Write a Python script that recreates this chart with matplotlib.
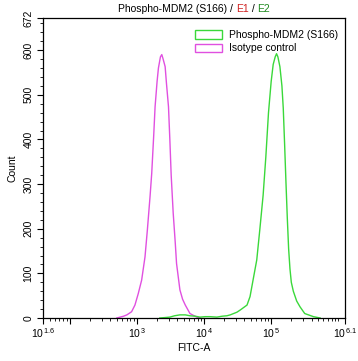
import matplotlib
matplotlib.use("Agg")
import matplotlib.pyplot as plt
from matplotlib.patches import Patch
import numpy as np

plt.rcParams['font.family'] = ['Liberation Sans', 'DejaVu Sans']
plt.rcParams['mathtext.fontset'] = 'custom'
plt.rcParams['mathtext.rm'] = 'Liberation Sans'
plt.rcParams['mathtext.it'] = 'Liberation Sans'
plt.rcParams['mathtext.bf'] = 'Liberation Sans'

# Data (log10 of FITC-A, count)
iso_logx = [2.70, 2.80, 2.85, 2.92, 2.97, 3.02, 3.07, 3.12, 3.155, 3.195, 3.22, 3.25, 3.27,
            3.30, 3.32, 3.35, 3.37, 3.39, 3.42, 3.44, 3.47, 3.49, 3.51, 3.54, 3.57,
            3.59, 3.64, 3.68, 3.72, 3.79, 3.89, 3.94]
iso_count = [0, 4, 7, 14, 29, 55, 85, 137, 197, 272, 324, 410, 473,
             530, 560, 585, 590, 580, 563, 525, 473, 400, 320, 235, 170,
             122, 63, 42, 29, 10, 2, 0]

pos_logx = [3.34, 3.42, 3.49, 3.56, 3.64, 3.72, 3.79, 3.87, 3.94, 4.02, 4.09, 4.19, 4.27,
            4.34, 4.39, 4.49, 4.54, 4.64, 4.685, 4.73, 4.785, 4.83, 4.88, 4.92, 4.96, 5.00,
            5.03, 5.06, 5.08, 5.10, 5.13, 5.16, 5.18, 5.20, 5.22, 5.24, 5.26, 5.28, 5.30,
            5.33, 5.38, 5.43, 5.50, 5.63, 5.73]
pos_count = [0, 1, 2, 5, 7, 7, 5, 4, 2, 3, 3, 2, 4,
             5, 7, 13, 18, 29, 48, 85, 130, 197, 275, 360, 460, 530,
             568, 585, 592, 585, 563, 520, 470, 390, 305, 225, 155, 110, 80,
             60, 38, 25, 10, 3, 0]

labels = ['Phospho-MDM2 (S166)', 'Isotype control']
colors = ['#3ad83a', '#e050e0']

fig = plt.figure(figsize=(3.58, 3.61), dpi=100)
ax = fig.add_axes([43/358, 1-318/361, (345-43)/358, 300/361])

ax.plot(10**np.array(iso_logx), iso_count, color=colors[1], lw=1.0)
ax.plot(10**np.array(pos_logx), pos_count, color=colors[0], lw=1.0)

ax.set_xscale('log')
ax.set_xlim(10**1.6, 10**6.1)
ax.set_ylim(0, 672)

major = [10**1.6, 1e2, 1e3, 1e4, 1e5, 10**6.1]
ax.set_xticks(major)
ax.set_xticklabels([r'$10^{\,1.6}$', '', r'$10^{\,3}$', r'$10^{\,4}$', r'$10^{\,5}$', r'$10^{\,6.1}$'])
minor = [m * 10**d for d in range(1, 7) for m in range(2, 10)] + [1e6]
minor = [v for v in minor if 10**1.6 < v < 10**6.1 and v not in major]
ax.set_xticks(minor, minor=True)
ax.tick_params(axis='x', which='minor', labelbottom=False)

ax.set_yticks([0, 100, 200, 300, 400, 500, 600, 672])
ax.set_yticks([v for v in range(20, 672, 20) if v % 100 != 0], minor=True)
for lab in ax.get_yticklabels():
    lab.set_rotation(90)
    lab.set_va('center')

ax.tick_params(which='major', direction='out', length=4, width=0.8, labelsize=7.5, pad=2)
ax.tick_params(which='minor', direction='out', length=2, width=0.6)
ax.tick_params(axis='y', pad=3)

for s in ax.spines.values():
    s.set_linewidth(0.9)

ax.set_xlabel('FITC-A', fontsize=7.5, labelpad=2)
ax.set_ylabel('Count', fontsize=7.5, labelpad=4)

# Title with coloured parts
fig.canvas.draw()
renderer = fig.canvas.get_renderer()
parts = [('Phospho-MDM2 (S166) / ', 'black'), ('E1', '#d02020'), (' / ', 'black'), ('E2', '#208a20')]
texts = []
for p, c in parts:
    texts.append(ax.text(0, 1.0, p, color=c, fontsize=7.5, transform=ax.transAxes, va='bottom'))
widths = [t.get_window_extent(renderer).width for t in texts]
total = sum(widths)
axbb = ax.get_window_extent(renderer)
start = axbb.x0 + axbb.width/2 - total/2
y = axbb.y1 + 4
cur = start
for t, w in zip(texts, widths):
    t.set_transform(None)
    t.set_position((cur, y))
    cur += w

handles = [Patch(facecolor='white', edgecolor=colors[0], lw=1.0),
           Patch(facecolor='white', edgecolor=colors[1], lw=1.0)]
ax.legend(handles, labels, loc='upper right', frameon=False, fontsize=7.5,
          handlelength=2.6, handleheight=0.9, handletextpad=0.6,
          labelspacing=0.35, bbox_to_anchor=(1.0, 0.985), borderaxespad=0.3)

fig.savefig('out.png', dpi=100)
